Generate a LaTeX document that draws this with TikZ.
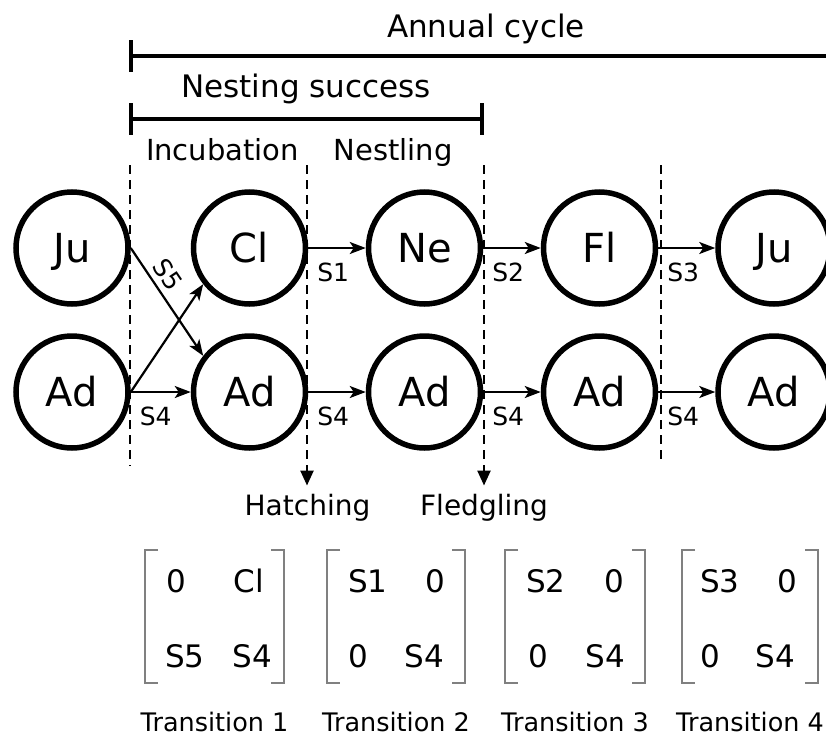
\documentclass[tikz,border=0pt]{standalone}
\usepackage{fontspec}
\setmainfont{DejaVu Sans}
\usetikzlibrary{arrows.meta}

\begin{document}
\begin{tikzpicture}[x=1pt,y=-1pt,
  stage/.style={circle,draw,line width=5.5pt,minimum size=112pt,inner sep=0pt,
    font=\fontsize{40}{40}\selectfont,text height=29pt,text depth=0pt},
  flow/.style={line width=2.2pt,-{Stealth[length=16pt,width=12pt,inset=4pt]}},
  rate/.style={font=\fontsize{25}{25}\selectfont,inner sep=0pt,anchor=north west,
    xshift=8pt,yshift=-14pt},
  divider/.style={line width=2.4pt,dash pattern=on 9pt off 6pt},
  divtip/.style={-{Triangle[length=15pt,width=13pt]},shorten >=8pt},
  span/.style={line width=3.5pt},
  spantitle/.style={font=\fontsize{31}{31}\selectfont,inner sep=0pt,anchor=base},
  phase/.style={font=\fontsize{29}{29}\selectfont,inner sep=0pt,anchor=base},
  event/.style={font=\fontsize{28}{28}\selectfont,inner sep=0pt,anchor=base},
  entryL/.style={font=\fontsize{31}{31}\selectfont,inner sep=0pt,anchor=base west},
  entryR/.style={font=\fontsize{31}{31}\selectfont,inner sep=0pt,anchor=base east},
  bracket/.style={draw=black!50,line width=1.8pt},
  caption/.style={font=\fontsize{25.5}{25.5}\selectfont,inner sep=0pt,anchor=base}
]
\useasboundingbox (0,0) rectangle (826,736);

% ---- period spans at the top ----
\node[spantitle] (annual) at (486,37) {Annual cycle};
\coordinate (a0) at (131,56);
\coordinate (a1) at (826,56);
\draw[span] (a0) -- (a1);
\draw[span] ([yshift=16pt]a0) -- ([yshift=-16pt]a0);

\node[spantitle] (nest) at (306,97) {Nesting success};
\coordinate (n0) at (131,119);
\coordinate (n1) at (482,119);
\draw[span] (n0) -- (n1);
\draw[span] ([yshift=16pt]n0) -- ([yshift=-16pt]n0);
\draw[span] ([yshift=16pt]n1) -- ([yshift=-16pt]n1);

\node[phase] (incub) at (222.5,160) {Incubation};
\node[phase] (nestl) at (393,160) {Nestling};

% ---- life stages ----
\node[stage] (ju1) at (72,248)  {Ju};
\node[stage] (cl)  at (249.5,248) {Cl};
\node[stage] (ne)  at (424.5,248) {Ne};
\node[stage] (fl)  at (599.5,248) {Fl};
\node[stage] (ju2) at (774,248) {Ju};

\node[stage] (ad1) at (72,392)  {Ad};
\node[stage] (ad2) at (249.5,392) {Ad};
\node[stage] (ad3) at (424.5,392) {Ad};
\node[stage] (ad4) at (599.5,392) {Ad};
\node[stage] (ad5) at (774,392) {Ad};

% ---- season boundaries ----
\node[event] (hatch) at (307.5,515) {Hatching};
\node[event] (fledge) at (484,515) {Fledgling};
\coordinate (d1t) at (130,165);
\coordinate (d1b) at (130,466);
\coordinate (d2t) at (307,165);
\coordinate (d3t) at (484,165);
\coordinate (d4t) at (661,165);
\coordinate (d4b) at (661,462);
\draw[divider] (d1t) -- (d1b);
\draw[divider,divtip] (d2t) -- (d2t |- hatch.north);
\draw[divider,divtip] (d3t) -- (d3t |- fledge.north);
\draw[divider] (d4t) -- (d4b);

% ---- transitions ----
\draw[flow] (ju1.east) -- node[sloped,pos=0.33,above=6pt,inner sep=0pt,
  font=\fontsize{25}{25}\selectfont] {S5} (ad2.142);
\draw[flow] (ad1.east) -- (cl.218);
\draw[flow] (ad1) -- node[rate,at start] {S4} (ad2);

\draw[flow] (cl) -- node[rate,at start] {S1} (ne);
\draw[flow] (ne) -- node[rate,at start] {S2} (fl);
\draw[flow] (fl) -- node[rate,at start] {S3} (ju2);
\draw[flow] (ad2) -- node[rate,at start] {S4} (ad3);
\draw[flow] (ad3) -- node[rate,at start] {S4} (ad4);
\draw[flow] (ad4) -- node[rate,at start] {S4} (ad5);

% ---- projection matrices ----
\foreach \l/\r in {145/284, 327/465, 505/645, 682/818}{
  \draw[bracket] (\l+13,550) -- (\l,550) -- (\l,683) -- (\l+13,683);
  \draw[bracket] (\r-13,550) -- (\r,550) -- (\r,683) -- (\r-13,683);
}

\node[entryL] (m1a) at (166,592) {0};
\node[entryR] (m1b) at (264,592) {Cl};
\node[entryL] (m1c) at (165,667) {S5};
\node[entryR] (m1d) at (272,667) {S4};

\node[entryL] (m2a) at (348,592) {S1};
\node[entryR] (m2b) at (445,592) {0};
\node[entryL] (m2c) at (348,667) {0};
\node[entryR] (m2d) at (444,667) {S4};

\node[entryL] (m3a) at (526,592) {S2};
\node[entryR] (m3b) at (624,592) {0};
\node[entryL] (m3c) at (528,667) {0};
\node[entryR] (m3d) at (625,667) {S4};

\node[entryL] (m4a) at (700,592) {S3};
\node[entryR] (m4b) at (797,592) {0};
\node[entryL] (m4c) at (700,667) {0};
\node[entryR] (m4d) at (795,667) {S4};

\node[caption] (t1) at (214.5,731) {Transition 1};
\node[caption] (t2) at (396,731) {Transition 2};
\node[caption] (t3) at (575,731) {Transition 3};
\node[caption] (t4) at (750,731) {Transition 4};
\end{tikzpicture}
\end{document}
